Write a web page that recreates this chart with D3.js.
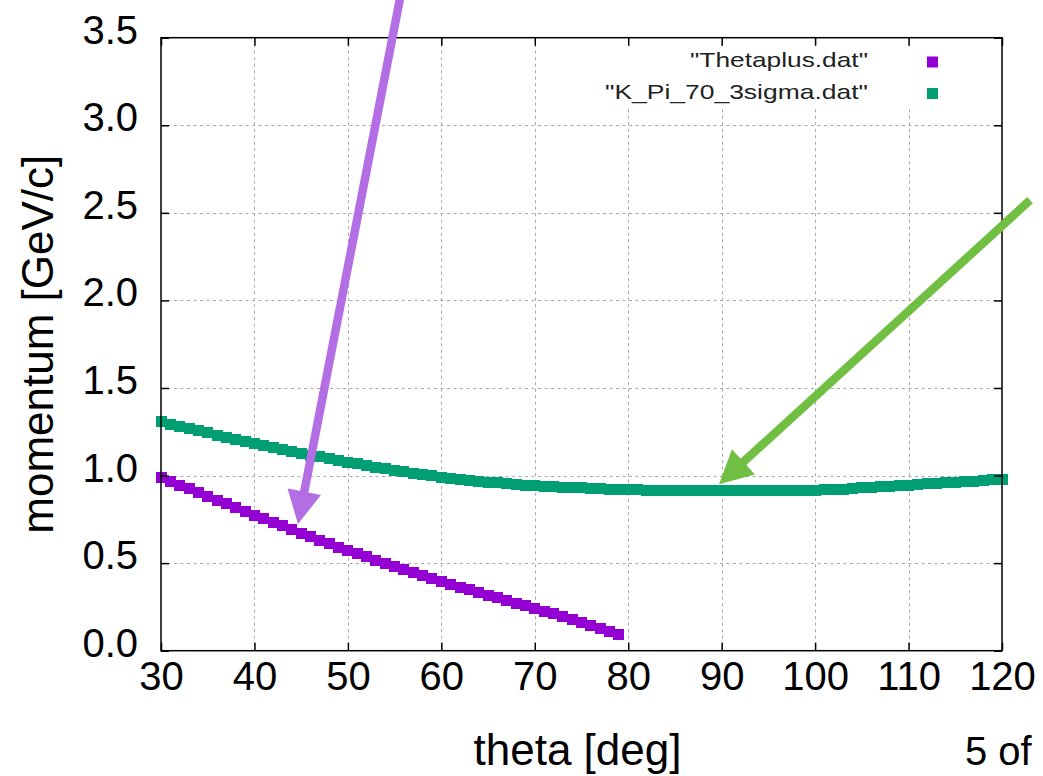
<!DOCTYPE html>
<html>
<head>
<meta charset="utf-8">
<script src="https://cdn.jsdelivr.net/npm/d3@7"></script>
<style>
  body { margin: 0; background: #fff; }
  text { font-family: "Liberation Sans", Arial, sans-serif; }
</style>
</head>
<body>
<div id="chart"></div>
<script>
let width = 1043, height = 776;
let plot = ({left: 161, right: 1002, top: 37.7, bottom: 650.7});

// theta [deg] for each series
let thetaPlusX = d3.range(30, 80);
let thetaPlusY = [
    0.990, 0.968, 0.946, 0.924, 0.902, 0.880, 0.859, 0.838, 0.816, 0.795,
    0.774, 0.753, 0.733, 0.712, 0.692, 0.672, 0.652, 0.631, 0.611, 0.591,
    0.571, 0.553, 0.535, 0.517, 0.499, 0.481, 0.464, 0.446, 0.428, 0.411,
    0.394, 0.378, 0.362, 0.347, 0.331, 0.316, 0.301, 0.286, 0.271, 0.257,
    0.242, 0.226, 0.210, 0.194, 0.177, 0.161, 0.145, 0.128, 0.112, 0.095
];

let kPiX = d3.range(30, 121);
let kPiY = [
    1.307, 1.294, 1.281, 1.268, 1.256, 1.244, 1.231, 1.219, 1.207, 1.196,
    1.184, 1.172, 1.160, 1.149, 1.138, 1.127, 1.116, 1.106, 1.095, 1.085,
    1.075, 1.066, 1.057, 1.048, 1.039, 1.030, 1.022, 1.014, 1.006, 0.998,
    0.990, 0.984, 0.978, 0.972, 0.967, 0.962, 0.958, 0.954, 0.950, 0.946,
    0.942, 0.939, 0.936, 0.933, 0.931, 0.929, 0.927, 0.925, 0.923, 0.921,
    0.919, 0.918, 0.917, 0.917, 0.916, 0.916, 0.915, 0.915, 0.915, 0.915,
    0.915, 0.915, 0.915, 0.915, 0.915, 0.915, 0.915, 0.916, 0.916, 0.917,
    0.917, 0.919, 0.921, 0.923, 0.926, 0.929, 0.932, 0.935, 0.939, 0.942,
    0.946, 0.949, 0.952, 0.955, 0.958, 0.962, 0.965, 0.968, 0.972, 0.976,
    0.980
];

let xTicks = [30, 40, 50, 60, 70, 80, 90, 100, 110, 120];
let yTicks = [0, 0.5, 1.0, 1.5, 2.0, 2.5, 3.0, 3.5];

let seriesNames = ["\"Thetaplus.dat\"", "\"K_Pi_70_3sigma.dat\""];
let seriesColors = ["#9400d3", "#009e73"];

// annotation arrows, [x0, y0, x1, y1] in data units (start -> tip)
let arrowLines = [[55.58, 3.725, 44.66, 0.723], [123.0, 2.572, 89.72, 0.951]];
let arrowColors = ["#b46ee3", "#70bf43"];

let xScale = d3.scaleLinear().domain([30, 120]).range([plot.left, plot.right]);
let yScale = d3.scaleLinear().domain([0, 3.5]).range([plot.bottom, plot.top]);

let svg = d3.select("#chart")
    .append("svg")
    .attr("width", width)
    .attr("height", height);

// grid
let grid = svg.append("g")
    .attr("stroke", "#a8a8a8")
    .attr("stroke-width", 1)
    .attr("stroke-dasharray", "3,3.5");

grid.selectAll(".gx")
    .data(xTicks.slice(1, -1))
    .enter().append("line")
    .attr("x1", d => Math.round(xScale(d)) + 0.5)
    .attr("x2", d => Math.round(xScale(d)) + 0.5)
    .attr("y1", plot.top)
    .attr("y2", plot.bottom);

grid.selectAll(".gy")
    .data(yTicks.slice(1, -1))
    .enter().append("line")
    .attr("x1", plot.left)
    .attr("x2", plot.right)
    .attr("y1", d => Math.round(yScale(d)) + 0.5)
    .attr("y2", d => Math.round(yScale(d)) + 0.5);

// opaque key box
svg.append("rect")
    .attr("x", 598)
    .attr("y", 46)
    .attr("width", 355)
    .attr("height", 62)
    .attr("fill", "#fff");

// data points (gnuplot squares)
let sq = 11;
function drawPoints(xs, ys, color) {
    svg.append("g")
        .selectAll("rect")
        .data(xs.map((x, i) => [x, ys[i]]))
        .enter().append("rect")
        .attr("x", d => Math.round(xScale(d[0]) - sq / 2))
        .attr("y", d => Math.round(yScale(d[1]) - sq / 2))
        .attr("width", sq)
        .attr("height", sq)
        .attr("fill", color);
}
drawPoints(thetaPlusX, thetaPlusY, seriesColors[0]);
drawPoints(kPiX, kPiY, seriesColors[1]);

// axes with inward ticks
let tickLen = 8;
function styleAxis(g) {
    g.select(".domain").remove();
    g.selectAll(".tick line").attr("stroke", "#000").attr("stroke-width", 1.5);
}

let gX = svg.append("g")
    .attr("transform", `translate(0,${plot.bottom})`)
    .call(d3.axisBottom(xScale).tickValues(xTicks).tickSize(-tickLen).tickFormat(d3.format("d")))
    .call(styleAxis);
gX.selectAll(".tick text")
    .attr("y", 39.5)
    .attr("dy", null)
    .attr("fill", "#000")
    .attr("font-size", 40)
    .attr("font-family", "Liberation Sans");

let gY = svg.append("g")
    .attr("transform", `translate(${plot.left},0)`)
    .call(d3.axisLeft(yScale).tickValues(yTicks).tickSize(-tickLen).tickFormat(d3.format(".1f")))
    .call(styleAxis);
gY.selectAll(".tick text")
    .attr("x", -23)
    .attr("dy", 5.5)
    .attr("fill", "#000")
    .attr("font-size", 40)
    .attr("font-family", "Liberation Sans");

svg.append("g")
    .attr("transform", `translate(0,${plot.top})`)
    .call(d3.axisTop(xScale).tickValues(xTicks).tickSize(-tickLen).tickFormat(""))
    .call(styleAxis);

svg.append("g")
    .attr("transform", `translate(${plot.right},0)`)
    .call(d3.axisRight(yScale).tickValues(yTicks).tickSize(-tickLen).tickFormat(""))
    .call(styleAxis);

// frame
svg.append("rect")
    .attr("x", plot.left)
    .attr("y", plot.top)
    .attr("width", plot.right - plot.left)
    .attr("height", plot.bottom - plot.top)
    .attr("fill", "none")
    .attr("stroke", "#000")
    .attr("stroke-width", 1.5);

// key
let keyY = [62, 93.5];
let keyWidths = [178, 263];
seriesNames.forEach(function(name, i) {
    svg.append("text")
        .attr("x", 868)
        .attr("y", keyY[i] + 5)
        .attr("text-anchor", "end")
        .attr("font-size", 21)
        .attr("fill", "#222")
        .attr("textLength", keyWidths[i])
        .attr("lengthAdjust", "spacingAndGlyphs")
        .text(name);
    svg.append("rect")
        .attr("x", 927)
        .attr("y", keyY[i] - 5.5)
        .attr("width", 11)
        .attr("height", 11)
        .attr("fill", seriesColors[i]);
});

// axis titles
svg.append("text")
    .attr("x", (plot.left + plot.right) / 2 - 4)
    .attr("y", 765)
    .attr("text-anchor", "middle")
    .attr("font-size", 44)
    .attr("fill", "#000")
    .text("theta [deg]");

svg.append("text")
    .attr("transform", `translate(53,${(plot.top + plot.bottom) / 2}) rotate(-90)`)
    .attr("text-anchor", "middle")
    .attr("font-size", 44)
    .attr("fill", "#000")
    .text("momentum [GeV/c]");

svg.append("text")
    .attr("x", 965)
    .attr("y", 765)
    .attr("font-size", 40)
    .attr("fill", "#000")
    .text("5 of");

// arrows
let headLen = 33, headHalf = 17;
arrowLines.forEach(function(a, i) {
    let x0 = xScale(a[0]), y0 = yScale(a[1]);
    let x1 = xScale(a[2]), y1 = yScale(a[3]);
    let len = Math.hypot(x1 - x0, y1 - y0);
    let ux = (x1 - x0) / len, uy = (y1 - y0) / len;
    let bx = x1 - ux * headLen, by = y1 - uy * headLen;
    svg.append("line")
        .attr("x1", x0).attr("y1", y0)
        .attr("x2", bx + ux * 2).attr("y2", by + uy * 2)
        .attr("stroke", arrowColors[i])
        .attr("stroke-width", 8.5);
    svg.append("polygon")
        .attr("points", [
            [x1, y1],
            [bx - uy * headHalf, by + ux * headHalf],
            [bx + uy * headHalf, by - ux * headHalf]
        ].map(p => p.join(",")).join(" "))
        .attr("fill", arrowColors[i]);
});
</script>
</body>
</html>
